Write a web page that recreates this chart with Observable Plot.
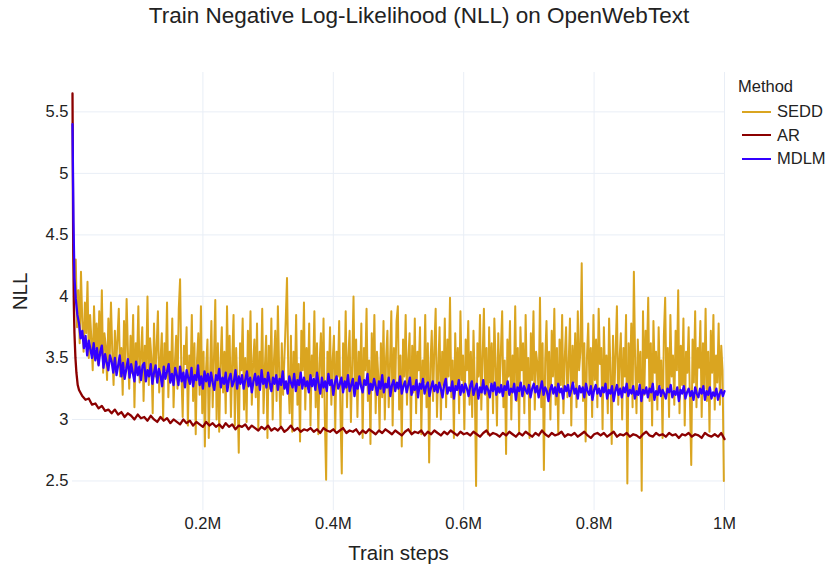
<!DOCTYPE html>
<html>
<head>
<meta charset="utf-8">
<script src="https://cdn.jsdelivr.net/npm/d3@7"></script>
<script src="https://cdn.jsdelivr.net/npm/@observablehq/plot@0.6"></script>
<style>
  html, body { margin: 0; padding: 0; background: #fff; }
  #wrap { position: relative; width: 828px; height: 569px; font-family: "Liberation Sans", Arial, sans-serif; color: #222; }
  #title { position: absolute; top: 3px; left: 0; width: 838px; text-align: center; font-size: 22.5px; color: #222; }
  #legend { position: absolute; left: 738px; top: 77px; font-size: 16.5px; color: #222; }
  #legend .head { margin-bottom: 3px; height: 20px; }
  #legend .item { display: flex; align-items: center; height: 23.5px; }
  #legend .sw { width: 29px; height: 2px; margin: 0 6px 0 4px; }
  #chart svg { font-family: "Liberation Sans", Arial, sans-serif; }
  #chart g[aria-label="x-axis label"] text, #chart g[aria-label="y-axis label"] text { font-size: 20.5px; }
</style>
</head>
<body>
<div id="wrap">
  <div id="chart"></div>
  <div id="title">Train Negative Log-Likelihood (NLL) on OpenWebText</div>
  <div id="legend"></div>
</div>
<script>
// ---- data ----
const methods = ["SEDD", "AR", "MDLM"];
const colors = ["#DAA520", "#8B0000", "#3300FF"];
const widths = [2, 2.3, 2.3];
const xTicks = [200000, 400000, 600000, 800000, 1000000];
const xTickLabels = ["0.2M", "0.4M", "0.6M", "0.8M", "1M"];
const yTicks = [2.5, 3, 3.5, 4, 4.5, 5, 5.5];

// SEDD: logged every 2k steps starting at step 1k
const seddStart = 1000, seddEvery = 2000;
const seddNLL = [
  4.42,4.10,4.30,3.75,4.05,3.62,4.20,3.80,3.55,3.95,3.70,4.12,3.50,3.85,3.65,3.40,3.92,3.58,3.78,3.45,
  3.88,3.52,4.05,3.38,3.70,3.60,3.32,3.82,3.48,3.95,3.55,3.28,3.72,3.44,3.66,3.90,3.35,3.58,3.20,3.80,
  3.42,3.98,3.55,3.25,3.68,3.38,3.85,3.10,3.62,3.45,3.92,3.30,3.52,3.75,3.15,3.60,3.40,4.00,3.28,3.66,
  3.50,3.05,3.78,3.35,3.58,3.88,3.22,3.48,3.70,3.00,3.62,3.40,3.95,3.18,3.55,3.32,3.82,3.10,3.45,3.68,
  3.25,3.90,4.14,3.38,3.02,3.60,3.45,3.75,2.95,3.52,3.30,3.85,3.15,3.62,2.88,3.48,3.70,3.20,3.92,3.05,
  3.55,2.78,3.42,3.65,2.85,3.35,3.80,3.10,3.50,3.97,3.00,3.62,2.90,3.45,3.75,3.22,3.55,3.05,3.92,3.30,
  3.68,3.02,3.48,3.85,2.95,3.58,3.25,2.73,3.62,3.40,3.82,3.08,3.50,2.98,3.72,3.35,3.88,3.12,3.45,3.65,
  3.18,3.78,2.92,3.55,3.30,3.90,3.05,3.42,3.68,2.85,3.60,3.25,3.82,3.00,3.48,3.72,3.15,3.92,3.38,2.95,
  3.62,3.20,3.50,3.80,4.15,3.35,3.05,3.68,2.90,3.55,3.28,3.85,3.12,3.45,2.82,3.72,3.40,3.95,3.08,3.58,
  3.25,3.78,2.95,3.52,3.35,3.88,3.10,3.62,2.88,3.45,3.70,3.18,3.82,3.02,2.51,3.55,3.30,3.75,3.12,3.48,
  3.68,2.92,3.55,3.35,3.80,3.05,2.56,3.62,3.25,3.88,3.10,3.50,3.72,2.98,3.45,4.00,3.20,3.65,3.02,3.55,
  3.30,3.78,2.85,3.58,3.40,3.90,3.15,3.48,2.80,3.70,3.28,3.85,3.05,3.55,3.35,2.92,3.62,3.18,3.80,3.00,
  3.50,3.72,3.10,3.45,3.88,2.95,3.58,3.25,3.80,3.92,3.08,3.52,2.78,3.65,3.35,3.85,3.12,3.48,3.70,2.90,
  3.60,3.22,3.82,3.05,3.55,3.40,3.75,2.88,3.48,3.30,3.85,3.10,3.62,2.65,3.45,3.72,3.15,3.58,3.90,3.02,
  3.42,3.75,3.00,3.55,3.28,3.82,3.10,3.65,3.35,3.99,3.18,3.48,2.85,3.70,3.25,3.58,3.05,3.88,3.32,3.52,
  2.92,3.65,3.40,3.80,3.12,3.55,3.02,3.72,3.28,2.46,3.62,3.35,3.85,3.08,3.50,3.90,3.20,3.58,2.88,3.75,
  3.30,3.62,3.05,3.82,3.45,2.95,3.70,3.22,3.55,3.88,3.10,3.48,2.72,3.65,3.35,3.80,3.00,3.52,3.28,3.92,
  3.15,3.58,2.90,3.75,3.40,3.62,3.05,3.85,3.25,3.50,2.85,3.70,3.32,3.88,3.08,3.55,3.45,3.20,3.99,3.10,
  3.62,2.59,3.48,3.80,3.22,3.55,3.00,3.72,3.35,3.90,3.12,3.58,2.88,3.65,3.28,3.85,3.05,3.50,3.75,3.18,
  3.45,3.82,2.95,3.60,3.30,3.70,3.10,3.88,3.40,3.55,4.27,3.15,3.62,2.82,3.50,3.78,3.25,3.58,3.02,3.85,
  3.32,3.65,3.10,3.90,3.45,3.58,2.92,3.75,3.28,3.52,3.05,3.82,3.40,2.80,3.68,3.20,3.55,3.92,3.12,3.48,
  3.70,3.00,3.58,3.35,3.85,2.48,3.62,3.25,3.78,3.10,4.20,3.45,3.05,3.65,3.30,3.55,2.42,3.88,3.20,3.72,
  3.50,3.99,3.15,3.62,2.95,3.80,3.38,3.55,3.08,3.75,3.28,3.48,2.85,3.68,3.99,3.22,3.58,3.02,3.85,3.35,
  3.52,3.12,3.72,3.40,4.05,3.05,3.60,3.28,3.82,2.95,3.55,3.38,3.75,3.15,2.63,3.65,3.30,3.88,3.10,3.58,
  3.42,3.80,3.02,3.62,3.25,3.90,3.15,3.55,2.90,3.72,3.38,3.85,3.08,3.52,3.30,3.78,3.12,3.60,3.40,2.50
];

// MDLM: a few early logs, then every 2.5k steps from 10k
const mdlmEarlySteps = [0, 1500, 3000, 5000, 7500];
const mdlmEarlyNLL = [5.40, 4.60, 4.15, 3.98, 3.85];
const mdlmStart = 10000, mdlmEvery = 2500;
const mdlmNLL = [
  3.78,3.66,3.72,3.58,3.68,3.52,3.64,3.57,3.50,3.62,3.48,3.58,3.44,3.55,3.60,3.42,3.53,3.46,3.40,3.52,
  3.47,3.38,3.50,3.36,3.44,3.52,3.35,3.46,3.33,3.41,3.49,3.34,3.45,3.38,3.31,3.47,3.36,3.43,3.32,3.44,
  3.46,3.31,3.40,3.35,3.45,3.29,3.38,3.44,3.30,3.41,3.36,3.27,3.43,3.33,3.39,3.45,3.30,3.37,3.28,3.42,
  3.36,3.28,3.43,3.31,3.38,3.26,3.40,3.34,3.29,3.42,3.27,3.36,3.32,3.44,3.28,3.35,3.25,3.39,3.31,3.37,
  3.27,3.38,3.30,3.24,3.36,3.32,3.41,3.26,3.34,3.29,3.38,3.23,3.33,3.37,3.27,3.31,3.40,3.25,3.35,3.29,
  3.36,3.25,3.32,3.39,3.27,3.34,3.22,3.31,3.37,3.28,3.35,3.24,3.40,3.29,3.33,3.26,3.38,3.30,3.23,3.34,
  3.29,3.36,3.24,3.33,3.28,3.39,3.25,3.31,3.21,3.35,3.30,3.26,3.37,3.23,3.32,3.28,3.38,3.25,3.34,3.27,
  3.31,3.22,3.36,3.27,3.33,3.24,3.38,3.29,3.21,3.34,3.26,3.31,3.23,3.37,3.28,3.32,3.20,3.30,3.35,3.25,
  3.29,3.34,3.22,3.31,3.26,3.36,3.23,3.28,3.33,3.19,3.30,3.25,3.35,3.27,3.22,3.32,3.28,3.37,3.21,3.29,
  3.24,3.33,3.27,3.20,3.31,3.25,3.36,3.22,3.29,3.26,3.34,3.19,3.28,3.32,3.23,3.30,3.25,3.35,3.21,3.27,
  3.31,3.22,3.28,3.34,3.20,3.27,3.24,3.32,3.18,3.29,3.25,3.33,3.21,3.27,3.30,3.19,3.26,3.31,3.23,3.28,
  3.22,3.30,3.25,3.18,3.28,3.33,3.21,3.26,3.23,3.31,3.17,3.27,3.24,3.32,3.20,3.28,3.22,3.29,3.25,3.19,
  3.27,3.31,3.20,3.25,3.29,3.17,3.26,3.22,3.32,3.21,3.27,3.24,3.18,3.29,3.23,3.30,3.20,3.26,3.22,3.28,
  3.19,3.27,3.24,3.31,3.20,3.25,3.22,3.29,3.16,3.26,3.23,3.30,3.19,3.27,3.24,3.21,3.28,3.18,3.25,3.29,
  3.22,3.27,3.18,3.25,3.31,3.20,3.26,3.23,3.15,3.24,3.28,3.21,3.26,3.19,3.29,3.22,3.25,3.17,3.27,3.23,
  3.28,3.19,3.24,3.30,3.21,3.25,3.17,3.27,3.22,3.26,3.18,3.29,3.23,3.20,3.27,3.16,3.24,3.28,3.21,3.25,
  3.19,3.26,3.22,3.29,3.17,3.24,3.21,3.27,3.15,3.23,3.28,3.20,3.25,3.18,3.26,3.22,3.29,3.19,3.24,3.21,
  3.27,3.17,3.23,3.20,3.28,3.15,3.24,3.21,3.26,3.18,3.25,3.22,3.29,3.16,3.23,3.20,3.27,3.19,3.24,3.21,
  3.17,3.25,3.22,3.28,3.18,3.23,3.20,3.26,3.15,3.24,3.21,3.27,3.17,3.22,3.25,3.19,3.23,3.16,3.26,3.21,
  3.18,3.25,3.21,3.27,3.16,3.23,3.20,3.26,3.17,3.22,3.19,3.25,3.16,3.21,3.24,3.19,3.23
];

// AR: a few early logs, then every 5k steps from 10k
const arEarlySteps = [0, 1000, 2000, 3000, 4500, 6000, 8000];
const arEarlyNLL = [5.65, 4.50, 3.95, 3.70, 3.50, 3.38, 3.28];
const arStart = 10000, arEvery = 5000;
const arNLL = [
  3.24,3.19,3.16,3.17,3.12,3.13,3.09,3.11,3.07,3.08,
  3.05,3.08,3.04,3.06,3.02,3.05,3.03,3.00,3.04,3.01,
  3.02,2.99,3.03,3.00,2.98,3.02,2.99,3.01,2.97,3.00,
  2.98,2.96,3.00,2.97,2.99,2.95,2.98,2.96,2.94,2.98,
  2.95,2.97,2.94,2.96,2.93,2.97,2.94,2.96,2.92,2.95,
  2.94,2.96,2.92,2.95,2.93,2.91,2.94,2.92,2.95,2.91,
  2.93,2.91,2.94,2.90,2.92,2.95,2.91,2.93,2.90,2.92,
  2.91,2.93,2.90,2.92,2.89,2.93,2.91,2.90,2.92,2.89,
  2.91,2.93,2.89,2.91,2.90,2.92,2.88,2.91,2.89,2.92,
  2.90,2.88,2.91,2.89,2.92,2.90,2.88,2.91,2.89,2.87,
  2.90,2.92,2.88,2.90,2.89,2.91,2.87,2.90,2.88,2.91,
  2.89,2.87,2.90,2.88,2.91,2.89,2.87,2.90,2.88,2.89,
  2.87,2.90,2.88,2.86,2.89,2.91,2.87,2.89,2.88,2.86,
  2.89,2.87,2.90,2.88,2.86,2.89,2.87,2.90,2.88,2.86,
  2.89,2.87,2.91,2.88,2.86,2.89,2.87,2.88,2.90,2.86,
  2.88,2.87,2.89,2.86,2.88,2.90,2.87,2.85,2.88,2.89,
  2.87,2.89,2.86,2.88,2.90,2.86,2.88,2.87,2.89,2.86,
  2.88,2.87,2.85,2.88,2.90,2.87,2.86,2.89,2.87,2.88,
  2.86,2.89,2.87,2.88,2.85,2.88,2.87,2.89,2.86,2.88,
  2.87,2.85,2.89,2.87,2.86,2.88,2.86,2.89,2.84
];

// ---- build table ----
const rows = [];
seddNLL.forEach((v, i) => rows.push({method: "SEDD", step: seddStart + i * seddEvery, nll: v}));
arEarlySteps.forEach((s, i) => rows.push({method: "AR", step: s, nll: arEarlyNLL[i]}));
arNLL.forEach((v, i) => rows.push({method: "AR", step: arStart + i * arEvery, nll: v}));
mdlmEarlySteps.forEach((s, i) => rows.push({method: "MDLM", step: s, nll: mdlmEarlyNLL[i]}));
mdlmNLL.forEach((v, i) => rows.push({method: "MDLM", step: mdlmStart + i * mdlmEvery, nll: v}));

const colorOf = Object.fromEntries(methods.map((m, i) => [m, colors[i]]));

const chart = Plot.plot({
  width: 828,
  height: 569,
  marginLeft: 72,
  marginRight: 104,
  marginTop: 72,
  marginBottom: 59,
  style: {fontFamily: "'Liberation Sans', Arial, sans-serif", fontSize: "16.5px", color: "#222"},
  x: {domain: [0, 1000000]},
  y: {domain: [2.26, 5.82]},
  marks: [
    Plot.gridX(xTicks, {stroke: "#e9eef6", strokeOpacity: 1, strokeWidth: 1}),
    Plot.gridY(yTicks, {stroke: "#e9eef6", strokeOpacity: 1, strokeWidth: 1}),
    Plot.axisX(xTicks, {tickSize: 0, tickPadding: 7, tickFormat: (d) => xTickLabels[xTicks.indexOf(d)],
      label: "Train steps", labelAnchor: "center", labelArrow: "none", labelOffset: 49, fontSize: 16.5}),
    Plot.axisY(yTicks, {tickSize: 0, tickPadding: 4, tickFormat: (d) => String(d),
      label: "NLL", labelAnchor: "center", labelArrow: "none", labelOffset: 60, fontSize: 16.5}),
    ...methods.map((m, k) => Plot.line(rows.filter((r) => r.method === m), {
      x: "step", y: "nll", stroke: colorOf[m], strokeWidth: widths[k], strokeLinejoin: "round", curve: "linear"
    }))
  ]
});
document.getElementById("chart").appendChild(chart);

// legend
const lg = document.getElementById("legend");
const head = document.createElement("div");
head.className = "head";
head.textContent = "Method";
lg.appendChild(head);
methods.forEach((m) => {
  const it = document.createElement("div");
  it.className = "item";
  const sw = document.createElement("span");
  sw.className = "sw";
  sw.style.background = colorOf[m];
  const t = document.createElement("span");
  t.textContent = m;
  it.appendChild(sw);
  it.appendChild(t);
  lg.appendChild(it);
});
</script>
</body>
</html>
